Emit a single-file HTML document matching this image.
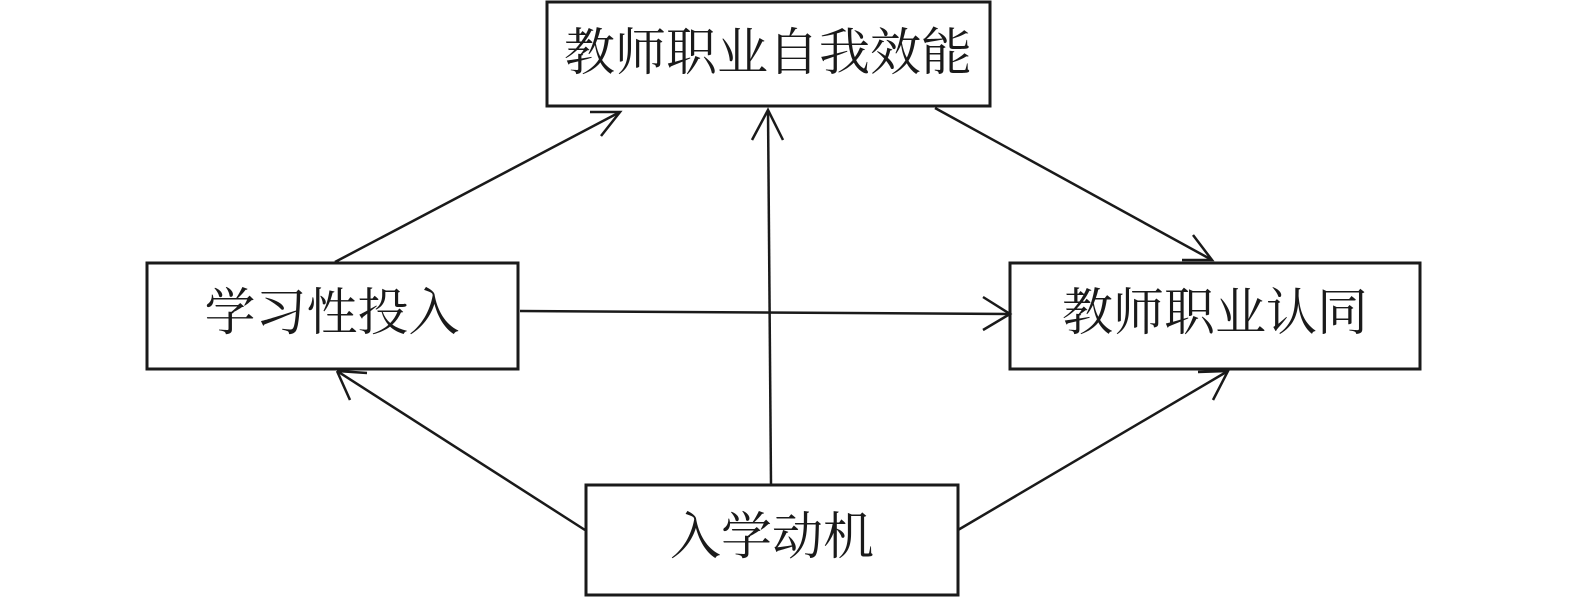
<!DOCTYPE html>
<html><head><meta charset="utf-8"><style>
html,body{margin:0;padding:0;background:#fff;}
svg{display:block}
text{font-family:"Liberation Serif","Noto Serif CJK SC",serif;font-size:51px;fill:#1a1a1a;}
</style></head><body>
<svg width="1575" height="600" viewBox="0 0 1575 600">
<g fill="none" stroke="#1a1a1a" stroke-width="3">
<rect x="547" y="2" width="443" height="104"/>
<rect x="147" y="263" width="371" height="106"/>
<rect x="1010" y="263" width="410" height="106"/>
<rect x="586" y="485" width="372" height="110"/>
<g stroke-width="2.5">
<line x1="335" y1="262" x2="620" y2="112"/>
<polyline points="590,112 620,112 601,136"/>
<line x1="771" y1="484" x2="768" y2="110"/>
<polyline points="752,140 768,110 783,140"/>
<line x1="935" y1="108" x2="1212" y2="260"/>
<polyline points="1193,235 1212,260 1182,260"/>
<line x1="520" y1="311" x2="1010" y2="314"/>
<polyline points="983,297 1010,314 983,330"/>
<line x1="585" y1="530" x2="337" y2="371"/>
<polyline points="337,371 367,373 "/>
<polyline points="337,371 350,400"/>
<line x1="958" y1="530" x2="1228" y2="371"/>
<polyline points="1198,372 1228,371 1213,400"/>
</g>
</g>
<text x="768" y="54" text-anchor="middle" dominant-baseline="central">教师职业自我效能</text>
<text x="332" y="314" text-anchor="middle" dominant-baseline="central">学习性投入</text>
<text x="1215" y="314" text-anchor="middle" dominant-baseline="central">教师职业认同</text>
<text x="772" y="538" text-anchor="middle" dominant-baseline="central">入学动机</text>
</svg>
</body></html>
